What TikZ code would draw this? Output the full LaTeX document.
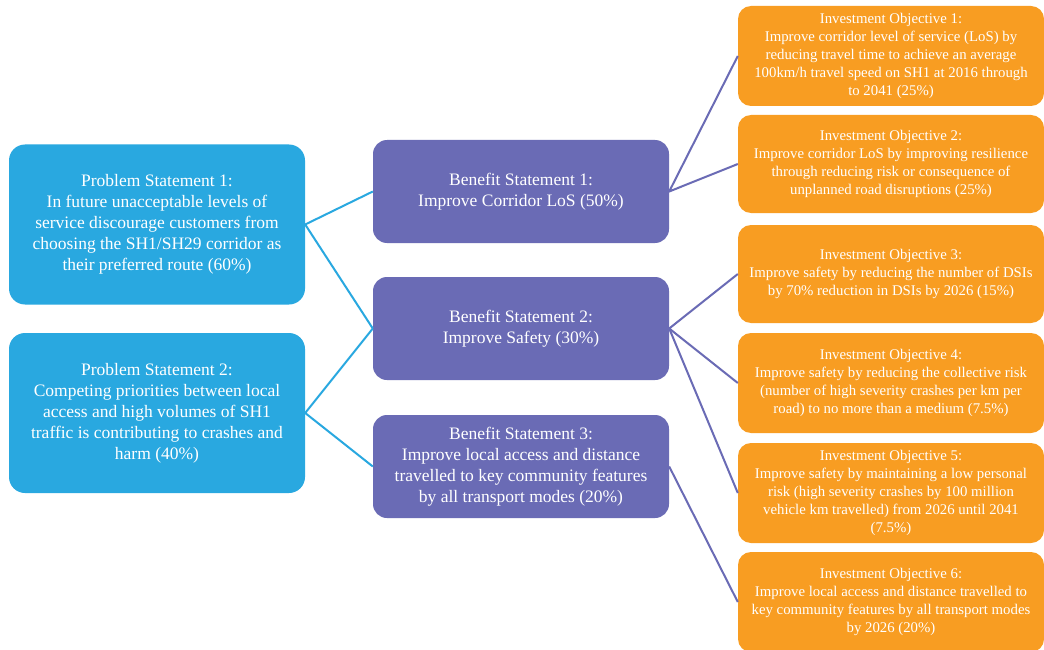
\documentclass[tikz,border=0pt]{standalone}
\usepackage{fontspec}
\setmainfont{Liberation Serif}
\definecolor{probc}{HTML}{29A8E0}
\definecolor{benc}{HTML}{6A6BB5}
\definecolor{invc}{HTML}{F89D22}
\begin{document}
\begin{tikzpicture}[x=1pt,y=-1pt,
  box/.style={rectangle, rounded corners=16pt, text=white, align=center, inner sep=0pt},
  probbox/.style={box, fill=probc, minimum width=296pt, minimum height=160pt, font=\fontsize{17.5}{21}\selectfont},
  benbox/.style={box, fill=benc, rounded corners=14pt, minimum width=296pt, minimum height=103pt, font=\fontsize{17.5}{21}\selectfont},
  invbox/.style={box, fill=invc, rounded corners=13pt, minimum width=306pt, font=\fontsize{14.8}{18}\selectfont},
  pline/.style={draw=probc, line width=2pt},
  bline/.style={draw=benc, line width=2pt}]
\useasboundingbox (0,0) rectangle (1044,650);
\clip (0,0) rectangle (1044,650);
\fill[white] (0,0) rectangle (1044,650);

\node[probbox] (ps1) at (157,224.5) {Problem Statement 1:\\In future unacceptable levels of\\service discourage customers from\\choosing the SH1/SH29 corridor as\\their preferred route (60\%)};
\node[probbox] (ps2) at (157,413) {Problem Statement 2:\\Competing priorities between local\\access and high volumes of SH1\\traffic is contributing to crashes and\\harm (40\%)};

\node[benbox] (bs1) at (521,191.5) {Benefit Statement 1:\\Improve Corridor LoS (50\%)};
\node[benbox] (bs2) at (521,328.5) {Benefit Statement 2:\\Improve Safety (30\%)};
\node[benbox] (bs3) at (521,466.5) {Benefit Statement 3:\\Improve local access and distance\\travelled to key community features\\by all transport modes (20\%)};

\node[invbox, minimum height=100pt] (io1) at (891,56) {Investment Objective 1:\\Improve corridor level of service (LoS) by\\reducing travel time to achieve an average\\100km/h travel speed on SH1 at 2016 through\\to 2041 (25\%)};
\node[invbox, minimum height=98pt] (io2) at (891,164) {Investment Objective 2:\\Improve corridor LoS by improving resilience\\through reducing risk or consequence of\\unplanned road disruptions (25\%)};
\node[invbox, minimum height=98pt] (io3) at (891,274) {Investment Objective 3:\\Improve safety by reducing the number of DSIs\\by 70\% reduction in DSIs by 2026 (15\%)};
\node[invbox, minimum height=100pt] (io4) at (891,383) {Investment Objective 4:\\Improve safety by reducing the collective risk\\(number of high severity crashes per km per\\road) to no more than a medium (7.5\%)};
\node[invbox, minimum height=100pt] (io5) at (891,493) {Investment Objective 5:\\Improve safety by maintaining a low personal\\risk (high severity crashes by 100 million\\vehicle km travelled) from 2026 until 2041\\(7.5\%)};
\node[invbox, minimum height=100pt] (io6) at (891,602) {Investment Objective 6:\\Improve local access and distance travelled to\\key community features by all transport modes\\by 2026 (20\%)};

\draw[pline] (bs1.west) -- (ps1.east) -- (bs2.west);
\draw[pline] (bs2.west) -- (ps2.east) -- (bs3.west);

\draw[bline] (io1.west) -- (bs1.east) -- (io2.west);
\draw[bline] (io3.west) -- (bs2.east) -- (io4.west);
\draw[bline] (bs2.east) -- (io5.west);
\draw[bline] (bs3.east) -- (io6.west);
\end{tikzpicture}
\end{document}
